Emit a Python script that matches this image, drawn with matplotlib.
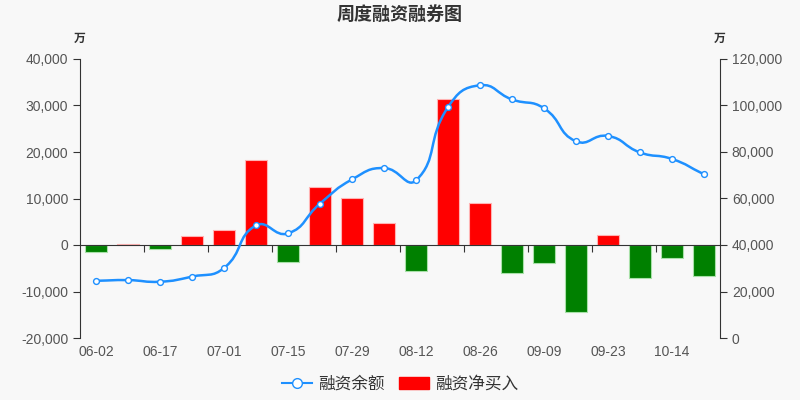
import matplotlib.pyplot as plt
import numpy as np
from matplotlib.path import Path
from matplotlib.patches import PathPatch, Patch
from matplotlib.lines import Line2D

plt.rcParams['font.family'] = ['Noto Sans CJK SC', 'DejaVu Sans']

# weekly dates (every other one is labelled on the axis)
dates = ["06-02", "06-10", "06-17", "06-24", "07-01", "07-08", "07-15", "07-22",
         "07-29", "08-05", "08-12", "08-19", "08-26", "09-02", "09-09", "09-16",
         "09-23", "10-08", "10-14", "10-21"]
# 融资净买入 (万)
net_buy = [-1500, 200, -900, 1900, 3200, 18200, -3600, 12500, 10200, 4700,
           -5600, 31500, 9100, -6000, -3900, -14400, 2200, -7200, -2900, -6700]
# 融资余额 (万)
balance = [24600, 24900, 24200, 26400, 30100, 48400, 45000, 57800, 68200, 73100,
           67800, 99300, 108700, 102600, 98800, 84600, 86900, 79800, 77000, 70400]

bg = "#f8f8f8"
blue = "#1e90ff"
axis_col = "#333333"
text_col = "#555555"
num_font = ["Liberation Sans", "DejaVu Sans"]

fig = plt.figure(figsize=(8, 4), dpi=100, facecolor=bg)
ax = fig.add_axes([0.1, 0.155, 0.8, 0.6975])
ax.set_facecolor(bg)
ax2 = ax.twinx()

x = np.arange(len(dates))
cols = ["#ff0000" if v >= 0 else "#008000" for v in net_buy]
edges = ["#ffb3b3" if v >= 0 else "#a8e0a8" for v in net_buy]
ax.bar(x, net_buy, width=0.69, color=cols, edgecolor=edges, linewidth=0.8, zorder=2)

ax.set_xlim(-0.5, len(dates) - 0.5)
ax.set_ylim(-20000, 40000)
ax.set_yticks(np.arange(-20000, 40001, 10000))
ax.yaxis.set_major_formatter(plt.FuncFormatter(lambda v, p: f"{int(v):,}"))
ax2.set_ylim(0, 120000)
ax2.set_yticks(np.arange(0, 120001, 20000))
ax2.yaxis.set_major_formatter(plt.FuncFormatter(lambda v, p: f"{int(v):,}"))

# smooth line similar to echarts (smooth = 0.5), computed in pixel-like space
sx, sy = 32.0, 430.0
px = x * sx
py = np.array(balance) / sy
smooth = 0.5
verts = [(px[0], py[0])]
codes = [Path.MOVETO]
n = len(px)
def cps(i):
    prev_i = max(i - 1, 0)
    next_i = min(i + 1, n - 1)
    vx = (px[next_i] - px[prev_i]) * smooth
    vy = (py[next_i] - py[prev_i]) * smooth
    d0 = np.hypot(px[i] - px[prev_i], py[i] - py[prev_i])
    d1 = np.hypot(px[next_i] - px[i], py[next_i] - py[i])
    s = d0 + d1 if d0 + d1 > 0 else 1
    return (px[i] - vx * d0 / s, py[i] - vy * d0 / s), (px[i] + vx * d1 / s, py[i] + vy * d1 / s)
for i in range(n - 1):
    c1 = cps(i)[1]
    c2 = cps(i + 1)[0]
    verts += [c1, c2, (px[i + 1], py[i + 1])]
    codes += [Path.CURVE4] * 3
verts = [(vx / sx, vy * sy) for vx, vy in verts]
ax2.add_patch(PathPatch(Path(verts, codes), facecolor="none", edgecolor=blue, lw=1.8, zorder=3))
ax2.plot(x, balance, ls="none", marker="o", ms=4.2, mfc="white", mec=blue, mew=1, zorder=4)

# spines
for s in ["top"]:
    ax.spines[s].set_visible(False)
    ax2.spines[s].set_visible(False)
ax2.spines["left"].set_visible(False)
ax2.spines["bottom"].set_visible(False)
ax.spines["right"].set_visible(False)
ax.spines["left"].set_color(axis_col)
ax2.spines["right"].set_color(axis_col)
ax.spines["bottom"].set_position(("data", 0))
ax.spines["bottom"].set_color(axis_col)
ax.spines["bottom"].set_zorder(5)

ax.set_xticks(np.arange(1.5, len(dates) - 1, 2))
ax.tick_params(axis="x", length=5, color=axis_col, labelbottom=False)
ax.tick_params(axis="y", length=5, color=axis_col, labelcolor=text_col, labelsize=10)
ax2.tick_params(axis="y", length=5, color=axis_col, labelcolor=text_col, labelsize=10)
for lab in ax.get_yticklabels() + ax2.get_yticklabels():
    lab.set_family(num_font)

sec = ax.secondary_xaxis(0)
sec.set_xticks(x[::2])
sec.set_xticklabels(dates[::2], family=num_font)
sec.spines["bottom"].set_visible(False)
sec.tick_params(length=0, pad=5, labelcolor=text_col, labelsize=10)

fig.text(0.5, 0.965, "周度融资融券图", ha="center", va="center", fontsize=13,
         fontweight="bold", color="#333333")
fig.text(0.1, 0.905, "万", ha="center", va="center", fontsize=8.5, fontweight="bold", color="#333333")
fig.text(0.9, 0.905, "万", ha="center", va="center", fontsize=8.5, fontweight="bold", color="#333333")

handles = [Line2D([0], [0], color=blue, lw=1.5, marker="o", ms=7, mfc="white", mec=blue),
           Patch(facecolor="#ff0000", edgecolor="#ff0000")]
fig.legend(handles, ["融资余额", "融资净买入"], loc="center", bbox_to_anchor=(0.5, 0.04),
           ncol=2, frameon=False, fontsize=12, handlelength=1.8, handletextpad=0.35,
           columnspacing=0.9, labelcolor="#333333")

fig.savefig("out.png", dpi=100, facecolor=bg)
